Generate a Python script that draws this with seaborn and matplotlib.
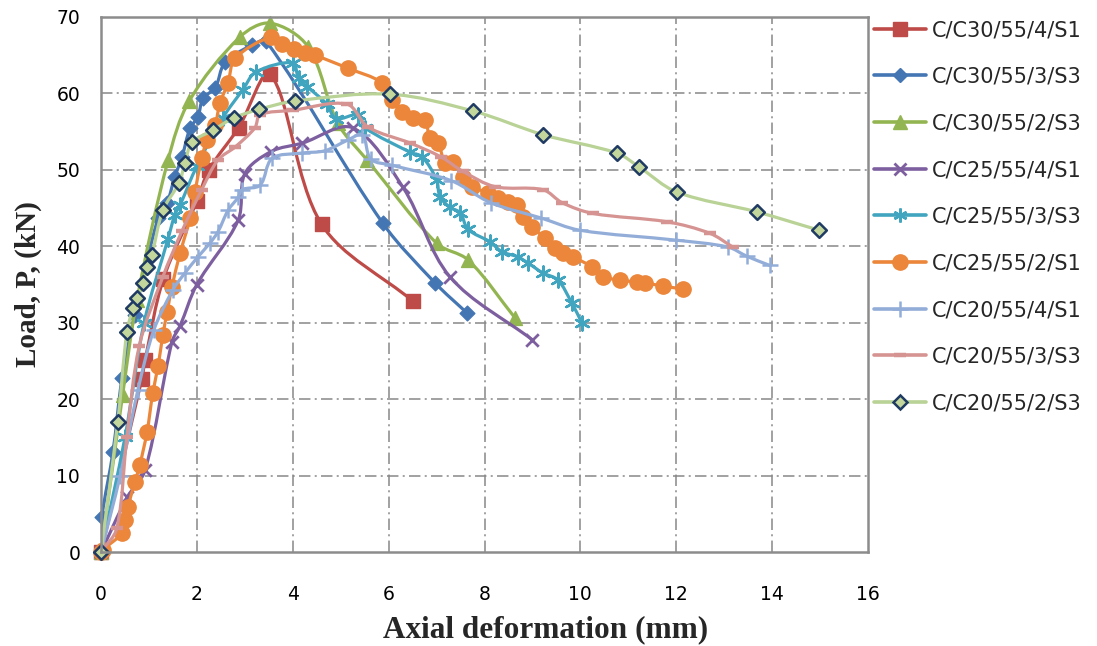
import numpy as np
import matplotlib
matplotlib.use("Agg")
import matplotlib.pyplot as plt
import seaborn as sns
from matplotlib.path import Path
from matplotlib.patches import PathPatch
from matplotlib.lines import Line2D

# ---------------- data ----------------
labels = ["C/C30/55/4/S1", "C/C30/55/3/S3", "C/C30/55/2/S3",
          "C/C25/55/4/S1", "C/C25/55/3/S3", "C/C25/55/2/S1",
          "C/C20/55/4/S1", "C/C20/55/3/S3", "C/C20/55/2/S3"]

x_c30_4 = [0, 0.85, 0.92, 1.3, 2.0, 2.25, 2.87, 3.53, 4.6, 6.51]
y_c30_4 = [0, 22.6, 25.1, 35.7, 45.9, 50.0, 55.5, 62.5, 42.9, 32.8]

x_c30_3 = [0, 0.02, 0.25, 0.44, 0.7, 1.19, 1.38, 1.54, 1.69, 1.86, 2.02, 2.13, 2.38, 2.59, 3.15, 3.45, 5.88, 6.97, 7.63]
y_c30_3 = [0, 4.6, 13.1, 22.8, 31.0, 43.7, 45.7, 49.1, 51.7, 55.5, 56.9, 59.4, 60.7, 64.1, 66.3, 66.8, 43.0, 35.2, 31.3]

x_c30_2 = [0, 0.45, 0.75, 1.4, 1.84, 2.9, 3.53, 4.32, 4.94, 5.55, 7.0, 7.66, 8.64]
y_c30_2 = [0, 20.5, 33.0, 51.3, 59.0, 67.4, 69.2, 66.1, 56.1, 51.3, 40.4, 38.2, 30.6]

x_c25_4 = [0, 0.55, 0.92, 1.48, 1.65, 2.0, 2.86, 3.0, 3.55, 4.2, 5.25, 6.3, 7.28, 8.99]
y_c25_4 = [0, 7.2, 10.7, 27.5, 29.6, 35.0, 43.4, 49.5, 52.4, 53.5, 55.5, 47.7, 36.0, 27.8]

x_c25_3 = [0, 0.5, 0.9, 1.4, 1.54, 1.65, 2.0, 2.54, 2.96, 3.23, 4.0, 4.12, 4.3, 4.71, 4.9, 5.37, 5.51,
           6.45, 6.7, 7.0, 7.07, 7.28, 7.49, 7.66, 8.11, 8.36, 8.7, 8.91, 9.22, 9.53, 9.82, 10.03]
y_c25_3 = [0, 15.0, 30.0, 41.0, 44.1, 45.4, 50.5, 56.8, 60.5, 62.8, 64.0, 62.0, 60.9, 58.6, 56.7, 57.2, 55.5,
           52.3, 51.7, 48.7, 46.5, 45.1, 44.4, 42.2, 40.6, 39.3, 38.6, 37.8, 36.5, 35.6, 32.6, 30.0]

x_c25_2 = [0, 0.04, 0.44, 0.5, 0.56, 0.71, 0.81, 0.96, 1.08, 1.19, 1.29, 1.38, 1.48, 1.65, 1.86, 1.96,
           2.1, 2.21, 2.38, 2.48, 2.65, 2.8, 3.55, 3.78, 4.02, 4.26, 4.46, 5.15, 5.86, 6.07, 6.28, 6.51,
           6.76, 6.86, 7.03, 7.18, 7.34, 7.55, 7.74, 8.07, 8.28, 8.49, 8.68, 8.8, 8.99, 9.26, 9.47, 9.64,
           9.85, 10.24, 10.47, 10.83, 11.18, 11.35, 11.72, 12.14]
y_c25_2 = [0, 0.3, 2.5, 4.2, 5.9, 9.2, 11.4, 15.7, 20.8, 24.3, 28.4, 31.4, 34.7, 39.1, 43.7, 47.1,
           51.5, 53.9, 55.9, 58.7, 61.4, 64.6, 67.4, 66.5, 65.8, 65.3, 65.0, 63.3, 61.4, 59.1, 57.6, 56.8,
           56.5, 54.2, 53.5, 50.9, 51.0, 49.1, 47.8, 47.0, 46.3, 45.8, 45.4, 43.8, 42.5, 41.1, 39.8, 39.1,
           38.6, 37.3, 36.0, 35.6, 35.3, 35.2, 34.8, 34.4]

x_c20_4 = [0, 0.4, 0.77, 1.1, 1.5, 1.75, 2.02, 2.27, 2.44, 2.65, 2.86, 2.94, 3.32, 3.57, 4.19, 4.67,
           5.15, 5.45, 5.63, 6.07, 7.3, 8.13, 9.18, 9.99, 12.0, 13.08, 13.47, 13.95]
y_c20_4 = [0, 10.0, 21.2, 29.0, 34.3, 36.5, 38.6, 40.4, 41.9, 44.7, 46.4, 47.4, 48.0, 51.5, 52.2, 52.5,
           53.9, 54.6, 51.4, 50.6, 48.6, 45.7, 43.7, 42.1, 40.8, 39.9, 38.7, 37.5]

x_c20_3 = [0, 0.33, 0.54, 0.8, 1.29, 1.69, 2.1, 2.44, 2.8, 3.21, 3.32, 4.0, 5.13, 5.57, 6.45, 7.09,
           7.55, 8.22, 9.22, 9.62, 10.26, 11.81, 12.7, 13.18]
y_c20_3 = [0, 3.1, 15.1, 27.0, 36.0, 42.0, 47.4, 51.3, 53.0, 55.5, 57.2, 57.8, 58.6, 55.6, 53.5, 51.7,
           49.8, 47.8, 47.4, 45.7, 44.3, 43.2, 41.7, 39.9]

x_c20_2 = [0, 0.35, 0.54, 0.67, 0.75, 0.88, 0.96, 1.06, 1.29, 1.63, 1.75, 1.9, 2.34, 2.77, 3.29, 4.04,
           6.03, 7.76, 9.22, 10.76, 11.22, 12.01, 13.68, 14.98]
y_c20_2 = [0, 17.0, 28.8, 31.9, 33.2, 35.2, 37.3, 38.9, 44.7, 48.3, 50.9, 53.6, 55.2, 56.8, 57.9, 59.0,
           59.9, 57.7, 54.6, 52.2, 50.4, 47.1, 44.5, 42.1]

xs = [x_c30_4, x_c30_3, x_c30_2, x_c25_4, x_c25_3, x_c25_2, x_c20_4, x_c20_3, x_c20_2]
ys = [y_c30_4, y_c30_3, y_c30_2, y_c25_4, y_c25_3, y_c25_2, y_c20_4, y_c20_3, y_c20_2]

x_ticks = [0, 2, 4, 6, 8, 10, 12, 14, 16]
y_ticks = [0, 10, 20, 30, 40, 50, 60, 70]

# ---------------- styles ----------------
line_colors = ["#BE4B48", "#4576B4", "#93B551", "#7D5FA0", "#42A5BF",
               "#EB863A", "#93ADD9", "#D59391", "#B9D295"]
markers = ["s", "D", "^", "x", (6, 2, 0), "o", "+", "_", "D"]
msizes = [10, 7.5, 10, 9, 10, 11, 11, 9, 7.5]
face = ["#BE4B48", "#4576B4", "#93B551", "#7D5FA0", "#42A5BF",
        "#EB863A", "#93ADD9", "#D59391", "#C3D69B"]
edge = ["#BE4B48", "#4576B4", "#93B551", "#7D5FA0", "#42A5BF",
        "#EB863A", "#93ADD9", "#D59391", "#1F3B63"]
mew = [1, 1, 1, 2, 1.8, 1, 1.8, 3.2, 1.8]

sns.set_theme(style="white")
plt.rcParams["font.family"] = ["DejaVu Sans"]

# approximate pixel scale of each data unit (for shape-preserving smoothing)
SX, SY = 767 / 16.0, 535 / 70.0


def smooth_path(x, y):
    """Excel-like smoothed line: cubic Bezier segments through the data points,
    tangents normalised by chord length to avoid overshoot."""
    p = np.column_stack([np.asarray(x, float) * SX, np.asarray(y, float) * SY])
    n = len(p)
    tang = np.zeros_like(p)
    for i in range(n):
        a = p[i - 1] if i > 0 else p[i]
        b = p[i + 1] if i < n - 1 else p[i]
        d = np.linalg.norm(p[i] - a) + np.linalg.norm(b - p[i])
        tang[i] = (b - a) / d if d > 0 else 0
    verts = [p[0]]
    codes = [Path.MOVETO]
    for i in range(n - 1):
        L = np.linalg.norm(p[i + 1] - p[i])
        c1 = p[i] + tang[i] * L / 3.0
        c2 = p[i + 1] - tang[i + 1] * L / 3.0
        verts += [c1, c2, p[i + 1]]
        codes += [Path.CURVE4] * 3
    v = np.array(verts)
    v[:, 0] /= SX
    v[:, 1] /= SY
    return Path(v, codes)


fig = plt.figure(figsize=(10.97, 6.46), dpi=100)
ax = fig.add_axes([101 / 1097, 1 - 552 / 646, (868 - 101) / 1097, (552 - 17) / 646])

grid_kw = dict(color="#888888", lw=1.1, ls=(0, (7.5, 2.8, 1.3, 2.8)), zorder=1)
for gx in x_ticks[1:-1]:
    ax.axvline(gx, **grid_kw)
for gy in y_ticks[1:-1]:
    ax.axhline(gy, **grid_kw)

handles = []
for i in range(len(labels)):
    patch = PathPatch(smooth_path(xs[i], ys[i]), fill=False, edgecolor=line_colors[i],
                      lw=2.3, capstyle="round", joinstyle="round", zorder=3 + 2 * i)
    ax.add_patch(patch)
    m = markers[i]
    unfilled = m in ("x", "+", "_") or isinstance(m, tuple)
    kw = dict(x=xs[i], y=ys[i], ax=ax, marker=m, s=msizes[i] ** 2,
              linewidth=mew[i], zorder=4 + 2 * i, legend=False, clip_on=False)
    if unfilled:
        sns.scatterplot(color=edge[i], **kw)
    else:
        sns.scatterplot(color=face[i], edgecolor=edge[i], **kw)
    handles.append(Line2D([], [], color=line_colors[i], lw=2.6, marker=m,
                          markersize=msizes[i], markerfacecolor=face[i],
                          markeredgecolor=edge[i], markeredgewidth=mew[i]))

ax.set_xlim(0, 16)
ax.set_ylim(0, 70)
ax.set_xticks(x_ticks)
ax.set_yticks(y_ticks)
ax.set_xticklabels([str(v) for v in x_ticks])
ax.set_yticklabels([str(v) for v in y_ticks])
ax.tick_params(axis="both", length=0, labelsize=13.5, colors="black")
ax.tick_params(axis="x", pad=24)
ax.tick_params(axis="y", pad=15)
for s in ax.spines.values():
    s.set_visible(True)
    s.set_color("#8C8C8C")
    s.set_linewidth(1.8)
    s.set_zorder(30)

ax.set_xlabel("Axial deformation (mm)", family="Liberation Serif", fontweight="bold",
              fontsize=22.5)
ax.set_ylabel("Load, P, (kN)", family="Liberation Serif", fontweight="bold",
              fontsize=21)
ax.xaxis.set_label_coords((546 - 101) / 767, -(630 - 552) / 535, transform=ax.transAxes)
ax.xaxis.label.set_va("center")
ax.yaxis.set_label_coords(-(101 - 28) / 767, 0.5, transform=ax.transAxes)
ax.yaxis.label.set_va("center")

fig.legend(handles, labels, loc="upper left", bbox_to_anchor=(874 / 1097, 1 - 20 / 646),
           frameon=False, fontsize=15, handlelength=2.5, handletextpad=0.3,
           labelspacing=1.28, borderpad=0, borderaxespad=0)

fig.savefig("out.png", dpi=100)
